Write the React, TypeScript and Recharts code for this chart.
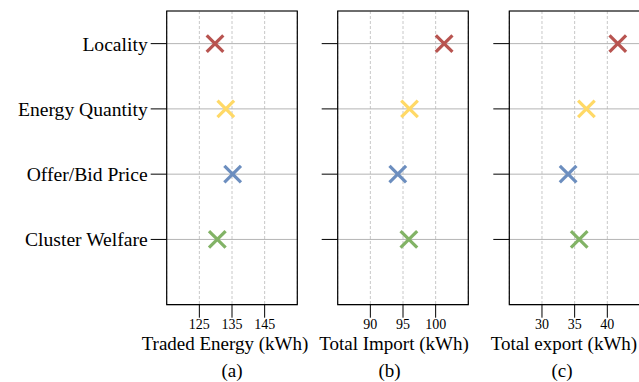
import React from 'react';
import { ScatterChart, Scatter, XAxis, YAxis, CartesianGrid, ReferenceArea, Cell } from 'recharts';

// values
const categories = ['Locality', 'Energy Quantity', 'Offer/Bid Price', 'Cluster Welfare'];
const categoryIndex = [0, 1, 2, 3];
const tradedEnergy = [129.8, 133.1, 135.2, 130.5];
const totalImport = [101.3, 96.0, 94.2, 95.9];
const totalExport = [41.6, 36.8, 34.0, 35.7];
const tradedTicks = [125, 135, 145];
const importTicks = [90, 95, 100];
const exportTicks = [30, 35, 40];

const markerColors = ['#b85450', '#ffd966', '#6c8ebf', '#82b366'];
const FONT = '"Liberation Serif", "Times New Roman", serif';
const HEIGHT = 382;
const PLOT_TOP = 11;
const PLOT_BOTTOM = 304.7;

const XMark = (props: any) => {
  const { cx, cy, fill } = props;
  if (cx == null || cy == null) return null;
  const r = 8.3;
  return (
    <g stroke={fill} strokeWidth={3.2}>
      <line x1={cx - r} y1={cy - r} x2={cx + r} y2={cy + r} />
      <line x1={cx - r} y1={cy + r} x2={cx + r} y2={cy - r} />
    </g>
  );
};

interface PanelProps {
  left: number;
  width: number;
  plotLeft: number;
  plotRight: number;
  values: number[];
  domain: [number, number];
  ticks: number[];
  label: string;
  sub: string;
  labelX: number;
  subX: number;
  showNames: boolean;
}

const Panel: React.FC<PanelProps> = ({
  left, width, plotLeft, plotRight, values, domain, ticks, label, sub, labelX, subX, showNames,
}) => {
  const data = categoryIndex.map((i) => ({ x: values[i], y: i }));
  return (
    <div style={{ position: 'absolute', left, top: 0 }}>
      <ScatterChart
        width={width}
        height={HEIGHT}
        margin={{ top: PLOT_TOP, right: width - (plotRight - left), left: 0, bottom: 0 }}
      >
        <CartesianGrid horizontal={false} stroke="#c8c8c8" strokeDasharray="3 2" />
        <CartesianGrid vertical={false} stroke="#b4b4b4" />
        <XAxis
          type="number"
          dataKey="x"
          domain={domain}
          ticks={ticks}
          allowDataOverflow
          height={HEIGHT - PLOT_BOTTOM}
          axisLine={false}
          tickSize={13}
          tickMargin={1}
          tickLine={{ stroke: '#000', strokeWidth: 1 }}
          tick={{ fill: '#000', fontSize: 14, fontFamily: FONT }}
          label={{
            content: () => (
              <g fontFamily={FONT} fill="#000" fontSize={19} textAnchor="middle">
                <text x={labelX - left} y={350}>{label}</text>
                <text x={subX - left} y={377}>{sub}</text>
              </g>
            ),
          }}
        />
        <YAxis
          type="number"
          dataKey="y"
          domain={[-0.5, 4]}
          reversed
          ticks={categoryIndex}
          allowDataOverflow
          width={plotLeft - left}
          axisLine={false}
          tickSize={16}
          tickMargin={3}
          tickLine={{ stroke: '#000', strokeWidth: 1 }}
          tick={{ fill: '#000', fontSize: 19.6, fontFamily: FONT }}
          tickFormatter={(v: number) => (showNames ? categories[v] : '')}
        />
        <ReferenceArea
          x1={domain[0]}
          x2={domain[1]}
          y1={-0.5}
          y2={4}
          fill="none"
          fillOpacity={0}
          stroke="#000"
          strokeWidth={1.2}
        />
        <Scatter data={data} shape={(p: any) => <XMark {...p} />} isAnimationActive={false}>
          {data.map((_, i) => (
            <Cell key={`c-${i}`} fill={markerColors[i]} />
          ))}
        </Scatter>
      </ScatterChart>
    </div>
  );
};

export default function App() {
  return (
    <div
      style={{
        position: 'absolute',
        left: 0,
        top: 0,
        width: 639,
        height: HEIGHT,
        overflow: 'hidden',
        background: '#fff',
      }}
    >
      <Panel
        left={0}
        width={312}
        plotLeft={166.7}
        plotRight={297.3}
        values={tradedEnergy}
        domain={[115, 155]}
        ticks={tradedTicks}
        label="Traded Energy (kWh)"
        sub="(a)"
        labelX={225}
        subX={232}
        showNames
      />
      <Panel
        left={300}
        width={180}
        plotLeft={337.7}
        plotRight={468.3}
        values={totalImport}
        domain={[85, 105]}
        ticks={importTicks}
        label="Total Import (kWh)"
        sub="(b)"
        labelX={394}
        subX={389.5}
        showNames={false}
      />
      <Panel
        left={475}
        width={172}
        plotLeft={509.3}
        plotRight={640}
        values={totalExport}
        domain={[25, 45]}
        ticks={exportTicks}
        label="Total export (kWh)"
        sub="(c)"
        labelX={564}
        subX={562}
        showNames={false}
      />
    </div>
  );
}
